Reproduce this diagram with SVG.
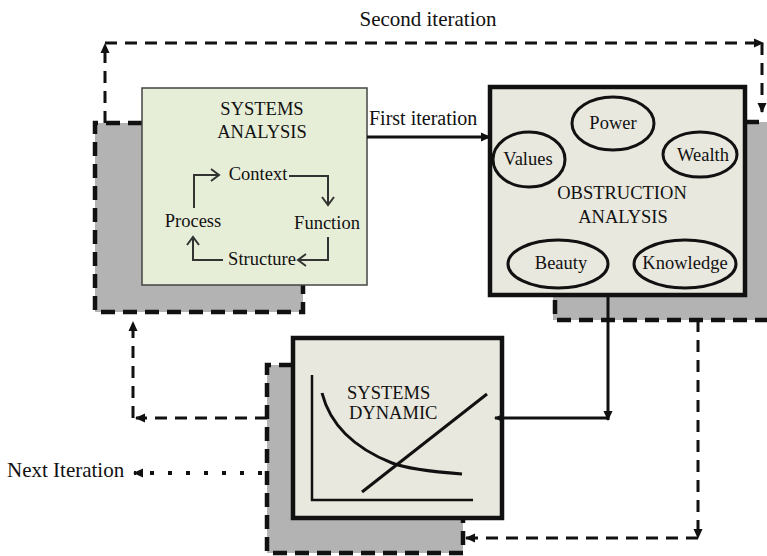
<svg xmlns="http://www.w3.org/2000/svg" width="767" height="556" viewBox="0 0 767 556">
<defs>
<marker id="ah" markerUnits="userSpaceOnUse" markerWidth="10" markerHeight="10" refX="9" refY="5" orient="auto">
<path d="M0,0.5 L10,5 L0,9.5 z" fill="#111"/>
</marker>
<marker id="ch" markerUnits="userSpaceOnUse" markerWidth="12" markerHeight="14" refX="10" refY="7" orient="auto">
<path d="M2,1 L10,7 L2,13" fill="none" stroke="#333" stroke-width="2"/>
</marker>
</defs>
<style>
text{font-family:"Liberation Serif","Times New Roman",serif;fill:#111;}
.t{font-size:18.5px;}
.m{text-anchor:middle;}
.shadow{fill:#b3b3b3;}
.sdash{fill:none;stroke:#111;stroke-width:4.5;stroke-dasharray:14 8;}
.dash{fill:none;stroke:#111;stroke-width:3;stroke-dasharray:12 8;}
.solid{fill:none;stroke:#111;stroke-width:3;}
.dot{fill:none;stroke:#111;stroke-width:4;stroke-dasharray:4 14;}
.box{fill:#e9e8de;stroke:#111;stroke-width:4.5;}
.ell{fill:none;stroke:#111;stroke-width:3;}
.cyc{fill:none;stroke:#333;stroke-width:2;}
</style>
<rect width="767" height="556" fill="#fff"/>

<g id="sa">
<rect class="shadow" x="95" y="123" width="208" height="189"/>
<path class="sdash" d="M142,123 H95 V312 H303 V285"/>
<rect x="142" y="88" width="225" height="197" fill="#e7eed8" stroke="#444" stroke-width="1.5"/>
<text class="t m" x="262" y="115">SYSTEMS</text>
<text class="t m" x="262" y="138">ANALYSIS</text>
<text class="t m" x="258" y="180">Context</text>
<text class="t m" x="193" y="227">Process</text>
<text class="t m" x="327" y="229">Function</text>
<text class="t m" x="262" y="265">Structure</text>
<path class="cyc" d="M194,208 V175 H219" marker-end="url(#ch)"/>
<path class="cyc" d="M289,176 H328 V205" marker-end="url(#ch)"/>
<path class="cyc" d="M328,237 V260 H298" marker-end="url(#ch)"/>
<path class="cyc" d="M223,260 H193 V237" marker-end="url(#ch)"/>
</g>

<g id="oa">
<rect class="shadow" x="553" y="122" width="214" height="198"/>
<path class="sdash" d="M555,300 V320 H767"/>
<path class="sdash" d="M745,122 H767"/>
<rect class="box" x="490" y="87" width="255" height="208"/>
<ellipse class="ell" cx="613" cy="123.5" rx="41" ry="26.5"/>
<ellipse class="ell" cx="529" cy="159.5" rx="36" ry="27.5"/>
<ellipse class="ell" cx="700" cy="154.5" rx="37" ry="22.5"/>
<ellipse class="ell" cx="558" cy="264" rx="50" ry="24"/>
<ellipse class="ell" cx="685" cy="264" rx="51" ry="24"/>
<text class="t m" x="613" y="129">Power</text>
<text class="t m" x="528" y="165">Values</text>
<text class="t m" x="703" y="161">Wealth</text>
<text class="t m" x="622" y="199">OBSTRUCTION</text>
<text class="t m" x="623" y="223">ANALYSIS</text>
<text class="t m" x="561" y="269">Beauty</text>
<text class="t m" x="685" y="269">Knowledge</text>
</g>

<g id="sd">
<rect class="shadow" x="267" y="365" width="196" height="188"/>
<path class="sdash" d="M293,365 H267 V553 H463 V518"/>
<rect class="box" x="293" y="338" width="209" height="180"/>
<path d="M312,375 V500 H473" fill="none" stroke="#111" stroke-width="2.5"/>
<path d="M322,393 Q334,440 392,463 Q410,470 462,474" fill="none" stroke="#111" stroke-width="3"/>
<path d="M362,492 L487,394" fill="none" stroke="#111" stroke-width="3"/>
<text class="t" x="347" y="399">SYSTEMS</text>
<text class="t" x="349" y="419">DYNAMIC</text>
</g>

<g id="connectors">
<path class="dash" d="M105,123 V44" marker-end="url(#ah)"/>
<path class="dash" d="M105,43 H763" marker-end="url(#ah)"/>
<path class="dash" d="M762,43 V112" marker-end="url(#ah)"/>
<text x="428" y="26" style="font-size:21px" class="m">Second iteration</text>
<path class="solid" d="M367,137 H490" marker-end="url(#ah)"/>
<text x="369" y="125" style="font-size:20px">First iteration</text>
<path class="solid" d="M608,296 V420" marker-end="url(#ah)"/>
<path class="solid" d="M608,418 H495" marker-end="url(#ah)"/>
<path class="dash" d="M698,320 V538" marker-end="url(#ah)"/>
<path class="dash" d="M698,538 H466" marker-end="url(#ah)"/>
<path class="dash" d="M267,418 H136" marker-end="url(#ah)"/>
<path class="dash" d="M133,418 V322" marker-end="url(#ah)"/>
<path class="dot" d="M262,473 H134" marker-end="url(#ah)"/>
<text x="7" y="477" style="font-size:21px">Next Iteration</text>
</g>
</svg>
